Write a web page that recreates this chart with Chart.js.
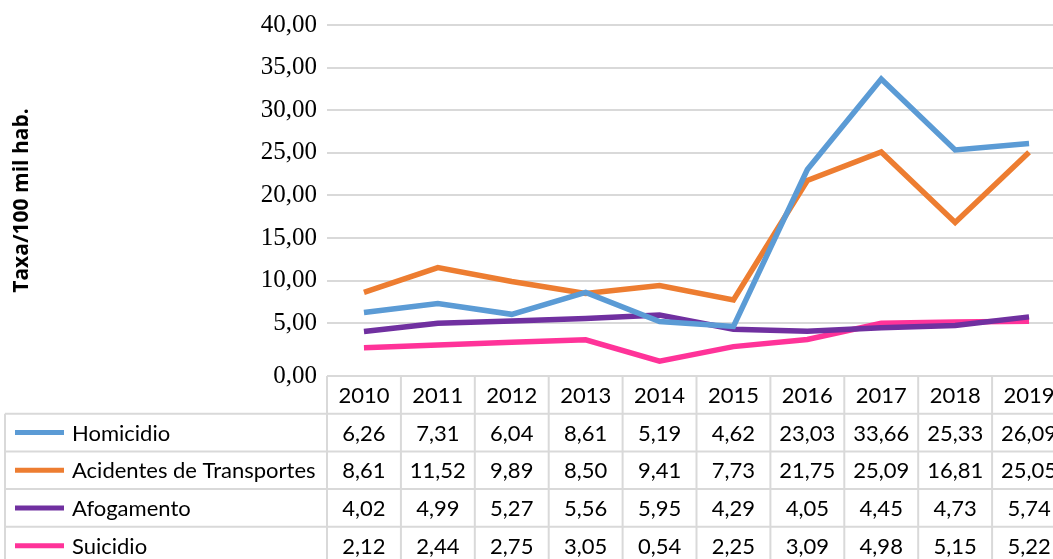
<!DOCTYPE html>
<html>
<head>
<meta charset="utf-8">
<script src="https://cdn.jsdelivr.net/npm/chart.js@4/dist/chart.umd.min.js"></script>
<style>
  body{margin:0;background:#fff;overflow:hidden;}
  #wrap{width:1053px;height:559px;overflow:hidden;}
</style>
</head>
<body>
<div id="wrap"><canvas id="myChartline" width="1070" height="559"></canvas></div>
<script>
var anos = ['2010','2011','2012','2013','2014','2015','2016','2017','2018','2019'];
var homicidio = [6.26, 7.31, 6.04, 8.61, 5.19, 4.62, 23.03, 33.66, 25.33, 26.09];
var acidentes = [8.61, 11.52, 9.89, 8.50, 9.41, 7.73, 21.75, 25.09, 16.81, 25.05];
var afogamento = [4.02, 4.99, 5.27, 5.56, 5.95, 4.29, 4.05, 4.45, 4.73, 5.74];
var suicidio = [2.12, 2.44, 2.75, 3.05, 0.54, 2.25, 3.09, 4.98, 5.15, 5.22];
var nomes = ['Homicidio', 'Acidentes de Transportes', 'Afogamento', 'Suicidio'];
var cores = ['#5b9bd5', '#ed7d31', '#7030a0', '#ff3399'];
var yTicks = [5, 10, 15, 20, 25, 30, 35, 40];
var yTitulo = 'Taxa/100 mil hab.';

function fmt(v){
  return v.toFixed(2).replace('.', ',');
}

// table under the plot (Excel-style data table)
var tabela = {
  id: 'tabela',
  afterDraw: function(chart){
    var ctx = chart.ctx;
    var x = chart.scales.x;
    var area = chart.chartArea;
    var rowH = 37.7;
    var top = area.bottom;
    var half = (x.getPixelForValue(1) - x.getPixelForValue(0)) / 2;
    var left = x.getPixelForValue(0) - half;
    var right = x.getPixelForValue(anos.length - 1) + half;
    var series = chart.data.datasets;
    ctx.save();
    ctx.strokeStyle = '#d9d9d9';
    ctx.lineWidth = 2;
    // verticals
    for (var i = 0; i <= anos.length; i++) {
      var vx = left + i * half * 2;
      ctx.beginPath();
      ctx.moveTo(vx, top);
      ctx.lineTo(vx, 570);
      ctx.stroke();
    }
    ctx.beginPath();
    ctx.moveTo(5, top + rowH);
    ctx.lineTo(5, 570);
    ctx.stroke();
    // horizontals
    for (var r = 1; r <= series.length; r++) {
      ctx.beginPath();
      ctx.moveTo(5, top + r * rowH);
      ctx.lineTo(right, top + r * rowH);
      ctx.stroke();
    }
    ctx.fillStyle = '#000';
    ctx.font = '22px Lato';
    ctx.textBaseline = 'middle';
    ctx.textAlign = 'center';
    for (var j = 0; j < anos.length; j++) {
      ctx.fillText(anos[j], x.getPixelForValue(j), top + rowH / 2 + 1);
    }
    for (var s = 0; s < series.length; s++) {
      var cy = top + (s + 1.5) * rowH + 1;
      for (var k = 0; k < anos.length; k++) {
        ctx.textAlign = 'center';
        ctx.fillText(fmt(series[s].data[k]), x.getPixelForValue(k), cy);
      }
      ctx.strokeStyle = series[s].borderColor;
      ctx.lineWidth = 5;
      ctx.beginPath();
      ctx.moveTo(15, cy - 1);
      ctx.lineTo(64, cy - 1);
      ctx.stroke();
      ctx.textAlign = 'left';
      ctx.fillText(series[s].label, 72, cy);
    }
    ctx.restore();
  }
};

function printgraph(){
  var ctx = document.getElementById('myChartline').getContext('2d');
  var lista = [homicidio, acidentes, afogamento, suicidio];
  var datasets = [];
  for (var i = 0; i < lista.length; i++) {
    datasets.push({
      label: nomes[i],
      data: lista[i],
      borderColor: cores[i],
      backgroundColor: cores[i],
      borderWidth: 5.5,
      pointRadius: 0,
      tension: 0
    });
  }
  new Chart(ctx, {
    type: 'line',
    data: {labels: anos, datasets: datasets},
    options: {
      responsive: false,
      animation: false,
      layout: {padding: {top: 22, bottom: 183, right: 4, left: 0}},
      plugins: {legend: {display: false}, title: {display: false}, tooltip: {enabled: false}},
      scales: {
        x: {display: false, offset: true},
        y: {
          min: -1.2,
          max: 40,
          afterFit: function(s){ s.width = 327; },
          afterBuildTicks: function(s){
            s.ticks = [{value: -1.2}].concat(yTicks.map(function(v){ return {value: v}; }));
          },
          border: {display: false},
          grid: {color: '#d9d9d9', lineWidth: 2, drawTicks: false},
          ticks: {
            padding: 10,
            color: '#000',
            font: {family: 'Liberation Serif', size: 25},
            callback: function(v){ return v < 0 ? '0,00' : fmt(v); }
          },
          title: {
            display: true,
            text: yTitulo,
            color: '#000',
            font: {family: 'Open Sans', size: 21, weight: 'bold'},
            padding: {top: 9, bottom: 0}
          }
        }
      }
    },
    plugins: [tabela]
  });
}
printgraph();
</script>
</body>
</html>
